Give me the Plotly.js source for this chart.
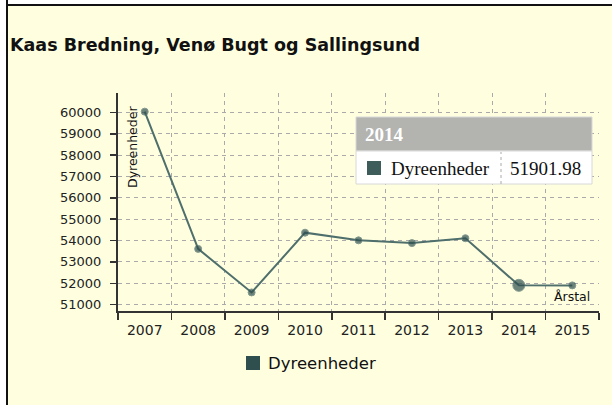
<!DOCTYPE html>
<html><head><meta charset="utf-8">
<script src="https://cdn.plot.ly/plotly-3.0.1.min.js"></script>
<style>
html,body{margin:0;padding:0;background:#fff;}
#wrap{position:absolute;left:0;top:0;width:612px;height:405px;overflow:hidden;}
#chart{position:absolute;left:0;top:0;width:612px;height:405px;}
#ftop{position:absolute;left:0;top:0;width:612px;height:4px;background:#fff;border-bottom:2px solid #111;}
#fleft{position:absolute;left:0;top:0;width:6px;height:405px;background:#fff;border-right:2px solid #111;}
</style></head>
<body><div id="wrap"><div id="chart"></div><div id="ftop"></div><div id="fleft"></div></div>
<script>
const chartTitle = "Kaas Bredning, Venø Bugt og Sallingsund";
const seriesName = "Dyreenheder";
const xAxisLabel = "Årstal";
const years = ["2007","2008","2009","2010","2011","2012","2013","2014","2015"];
const values = [60040, 53610, 51570, 54370, 54010, 53880, 54110, 51901.98, 51900];
const hoverYear = "2014";
const hoverValue = "51901.98";

const L = 118, R = 599, T = 93, B = 311;
const px = x => (x - L) / (R - L);
const py = y => (B - y) / (B - T);
const hi = years.indexOf(hoverYear);

const trace = {
  x: years, y: values, type: 'scatter', mode: 'lines+markers',
  line: {color: '#4f6f6c', width: 2},
  marker: {color: '#2f4f4f', size: values.map((v,i)=> i===hi ? 12 : 7)},
  hoverinfo: 'skip', showlegend: false
};

const font = "DejaVu Sans, Verdana, sans-serif";
const serif = "Liberation Serif, Times New Roman, serif";

const layout = {
  width: 612, height: 405,
  margin: {l: L, r: 612 - R, t: T, b: 405 - B, pad: 0},
  paper_bgcolor: '#ffffe0', plot_bgcolor: 'rgba(0,0,0,0)',
  showlegend: false,
  title: {text: '<b>' + chartTitle + '</b>', x: 10/612, xanchor: 'left', y: 1 - 45/405, yanchor: 'middle',
          font: {family: font, size: 17.5, color: '#111'}},
  xaxis: {
    type: 'category', range: [-0.5, years.length - 0.5], tickson: 'boundaries',
    showline: true, linecolor: '#333', linewidth: 2,
    ticks: 'outside', ticklen: 7, tickcolor: '#333', tickwidth: 1.5,
    showgrid: true, gridcolor: '#aaa', griddash: '4px,4px', gridwidth: 1,
    tickfont: {family: font, size: 14, color: '#222'}, ticklabelstandoff: 5,
    zeroline: false, fixedrange: true
  },
  yaxis: {
    range: [50700, 60913], dtick: 1000, tick0: 0,
    showline: true, linecolor: '#333', linewidth: 2,
    ticks: 'outside', ticklen: 6, tickcolor: '#333', tickwidth: 1.5,
    showgrid: true, gridcolor: '#aaa', griddash: '4px,4px', gridwidth: 1,
    tickfont: {family: font, size: 13, color: '#222'}, ticklabelstandoff: 6,
    tickformat: 'd', zeroline: false, fixedrange: true
  },
  shapes: [
    {type: 'line', xref: 'x', yref: 'paper', x0: hoverYear, x1: hoverYear, y0: 0, y1: 1,
     line: {color: '#aaaaaa', width: 1.5}, layer: 'below'},
    // tooltip
    {type: 'rect', xref: 'paper', yref: 'paper', x0: px(356), x1: px(592), y0: py(151), y1: py(117),
     fillcolor: '#b3b3b0', line: {color: '#d8d8d8', width: 1}},
    {type: 'rect', xref: 'paper', yref: 'paper', x0: px(356), x1: px(592), y0: py(184), y1: py(151),
     fillcolor: '#ffffff', line: {color: '#d8d8d8', width: 1}},
    {type: 'line', xref: 'paper', yref: 'paper', x0: px(501), x1: px(501), y0: py(184), y1: py(152),
     line: {color: '#aaaaaa', width: 1, dash: 'dot'}},
    {type: 'rect', xref: 'paper', yref: 'paper', x0: px(367), x1: px(381), y0: py(175), y1: py(161),
     fillcolor: '#3d5c5a', line: {width: 0}},
    // legend square
    {type: 'rect', xref: 'paper', yref: 'paper', x0: px(246), x1: px(260), y0: py(370), y1: py(356),
     fillcolor: '#2f4f4f', line: {width: 0}}
  ],
  annotations: [
    {text: seriesName, xref: 'paper', yref: 'paper', x: px(132), y: py(104), xanchor: 'center', yanchor: 'top',
     textangle: -90, showarrow: false, font: {family: font, size: 12.5, color: '#111'}},
    {text: xAxisLabel, xref: 'paper', yref: 'paper', x: px(592), y: py(296), xanchor: 'right', yanchor: 'middle',
     showarrow: false, font: {family: font, size: 12.5, color: '#111'}},
    {text: '<b>' + hoverYear + '</b>', xref: 'paper', yref: 'paper', x: px(363), y: py(134), xanchor: 'left', yanchor: 'middle',
     showarrow: false, font: {family: serif, size: 19, color: '#ffffff'}},
    {text: seriesName, xref: 'paper', yref: 'paper', x: px(389), y: py(168), xanchor: 'left', yanchor: 'middle',
     showarrow: false, font: {family: serif, size: 19, color: '#111'}},
    {text: hoverValue, xref: 'paper', yref: 'paper', x: px(583), y: py(168), xanchor: 'right', yanchor: 'middle',
     showarrow: false, font: {family: serif, size: 19, color: '#111'}},
    {text: seriesName, xref: 'paper', yref: 'paper', x: px(266), y: py(363), xanchor: 'left', yanchor: 'middle',
     showarrow: false, font: {family: font, size: 16.5, color: '#111'}}
  ]
};

Plotly.newPlot('chart', [trace], layout, {displayModeBar: false, staticPlot: true});
</script></body></html>
